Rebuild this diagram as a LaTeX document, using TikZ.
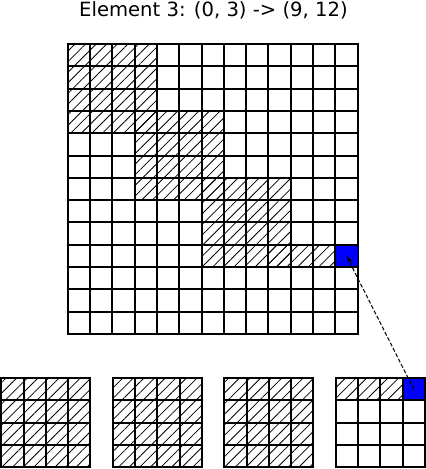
\documentclass[tikz,border=0pt]{standalone}
\usepackage{fontspec}
\setmainfont{DejaVu Sans}
\usetikzlibrary{patterns.meta,arrows.meta,backgrounds}
\begin{document}
\begin{tikzpicture}[x=1pt,y=-1pt,
  cell/.style={draw=black,line width=2pt,minimum size=22.3pt,inner sep=0pt,outer sep=0pt,anchor=north west},
  hatch/.style={pattern={Lines[angle=45,distance=7.5pt,line width=0.8pt]}},
  link/.style={dash pattern=on 4pt off 2pt,line width=1pt,-{Stealth[length=8pt,width=6pt]}},
  titletext/.style={font=\fontsize{19.6}{22}\selectfont}]
\useasboundingbox (0,0) rectangle (426,469);
\node[titletext] (title) at (213.5,10) {Element 3: (0, 3) -> (9, 12)};
% main grid
\foreach \r in {0,...,12}{
  \foreach \c in {0,...,12}{
    \node[cell] (m-\r-\c) at ({67.7+22.3*\c},{44+22.3*\r}) {};
  }
}
% bottom grids
\foreach \k in {0,...,3}{
  \foreach \r in {0,...,3}{
    \foreach \c in {0,...,3}{
      \node[cell] (b\k-\r-\c) at ({1.2+111.5*\k+22.3*\c},{378+22.3*\r}) {};
    }
  }
}
\begin{scope}[on background layer]
  \fill[hatch] (m-0-0.north west) rectangle (m-3-3.south east);
  \fill[hatch] (m-3-3.north west) rectangle (m-6-6.south east);
  \fill[hatch] (m-6-6.north west) rectangle (m-9-9.south east);
  \fill[hatch] (m-9-9.north west) rectangle (m-9-11.south east);
  \fill[blue] (m-9-12.north west) rectangle (m-9-12.south east);
  \foreach \k in {0,1,2}{
    \fill[hatch] (b\k-0-0.north west) rectangle (b\k-3-3.south east);
  }
  \fill[hatch] (b3-0-0.north west) rectangle (b3-0-2.south east);
  \fill[blue] (b3-0-3.north west) rectangle (b3-0-3.south east);
\end{scope}
\draw[link] (b3-0-3.center) -- (m-9-12.center);
\end{tikzpicture}
\end{document}
